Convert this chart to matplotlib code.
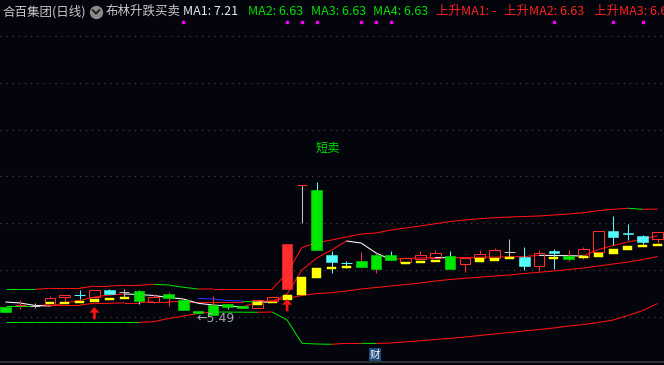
import numpy as np
import matplotlib
matplotlib.use('Agg')
import matplotlib.pyplot as plt
from matplotlib.patches import Rectangle, Polygon
from matplotlib.collections import LineCollection
from matplotlib.lines import Line2D
from matplotlib import transforms

plt.rcParams['font.family'] = ['Noto Sans CJK SC', 'DejaVu Sans']

# ---- data (prices) ----
opens  = [5.57, 5.59, 5.58, 5.59, 5.67, 5.69, 5.67, 5.74, 5.72, 5.73, 5.62, 5.70, 5.64, 5.525, 5.59,
          5.60, 5.58, 5.56, 5.63, 5.75, 6.79, 6.74, 6.09, 6.01, 6.03, 6.09, 6.09, 6.02, 6.05, 6.06,
          6.08, 6.00, 6.06, 6.06, 6.12, 6.07, 5.98, 6.13, 6.08, 6.07, 6.12, 6.33, 6.31, 6.28, 6.25]
highs  = [5.57, 5.64, 5.61, 5.68, 5.69, 5.74, 5.74, 5.75, 5.75, 5.74, 5.70, 5.72, 5.64, 5.525, 5.68,
          5.60, 5.58, 5.64, 5.67, 6.20, 6.79, 6.82, 6.13, 6.03, 6.12, 6.11, 6.13, 6.06, 6.13, 6.14,
          6.13, 6.06, 6.14, 6.16, 6.25, 6.17, 6.14, 6.15, 6.14, 6.17, 6.33, 6.48, 6.40, 6.29, 6.32]
lows   = [5.52, 5.55, 5.56, 5.58, 5.61, 5.65, 5.67, 5.70, 5.67, 5.60, 5.61, 5.58, 5.54, 5.51, 5.49,
          5.55, 5.56, 5.56, 5.63, 5.75, 6.41, 6.14, 5.91, 5.96, 5.97, 5.91, 6.04, 6.02, 6.05, 6.06,
          5.95, 5.92, 6.06, 6.06, 6.07, 5.94, 5.93, 5.95, 6.03, 6.05, 6.12, 6.19, 6.24, 6.19, 6.21]
closes = [5.52, 5.59, 5.58, 5.66, 5.69, 5.69, 5.74, 5.70, 5.72, 5.63, 5.67, 5.66, 5.54, 5.51, 5.49,
          5.57, 5.56, 5.64, 5.67, 6.20, 6.79, 6.14, 6.02, 6.01, 5.97, 5.95, 6.04, 6.06, 6.09, 6.11,
          5.95, 6.06, 6.10, 6.14, 6.12, 5.98, 6.11, 6.11, 6.05, 6.15, 6.33, 6.27, 6.30, 6.22, 6.32]
# body type: r hollow red, R filled red, c cyan, g green stick, x* cross, T limit-up T
kinds  = ['g', 'xr', 'xw', 'r', 'r', 'xc', 'r', 'c', 'xw', 'g', 'r', 'g', 'g', 'g', 'g',
          'g', 'g', 'r', 'r', 'R', 'T', 'g', 'c', 'xc', 'g', 'g', 'g', 'r', 'r', 'r',
          'g', 'r', 'r', 'r', 'xw', 'c', 'r', 'c', 'g', 'r', 'r', 'c', 'c', 'c', 'r']
wicks  = ['g', 'r', 'w', 'r', 'r', 'c', 'r', 'c', 'w', 'c', 'r', 'r', 'g', 'g', 'r',
          'c', 'g', 'r', 'r', 'r', 'w', 'c', 'c', 'c', 'r', 'r', 'c', 'r', 'r', 'r',
          'c', 'r', 'r', 'r', 'w', 'c', 'r', 'c', 'r', 'r', 'r', 'c', 'c', 'c', 'r']

nan = np.nan
yellow_top = [nan, nan, nan, 5.62, 5.62, 5.63, 5.65, 5.66, 5.67, nan, nan, nan, nan, nan, nan,
              nan, nan, 5.62, 5.62, 5.69, 5.87, 5.96, 5.97, 5.98, nan, nan, nan, 6.02, 6.03, 6.04,
              nan, nan, 6.06, 6.06, 6.07, nan, nan, 6.07, nan, 6.08, 6.11, 6.15, 6.18, 6.19, 6.20]
yellow_bot = [nan, nan, nan, 5.60, 5.605, 5.61, 5.62, 5.64, 5.65, nan, nan, nan, nan, nan, nan,
              nan, nan, 5.59, 5.61, 5.64, 5.69, 5.86, 5.95, 5.96, nan, nan, nan, 6.00, 6.01, 6.02,
              nan, nan, 6.02, 6.03, 6.05, nan, nan, 6.05, nan, 6.06, 6.07, 6.10, 6.14, 6.17, 6.18]

ma_line = [5.62, 5.61, 5.585, 5.58, 5.61, 5.635, 5.67, 5.69, 5.70, 5.695, 5.685, 5.665, 5.65, 5.607, 5.59,
           5.58, 5.57, 5.62, 5.618, 5.70, 5.94, 6.06, 6.14, 6.23, 6.21, 6.11, 6.045, 6.055, 6.06, 6.065,
           6.062, 6.065, 6.067, 6.07, 6.072, 6.074, 6.087, 6.085, 6.083, 6.08, 6.145, 6.185, 6.22, 6.25, 6.28]
ma_blue = [nan] * 13 + [5.657, 5.65, 5.635, 5.63] + [nan] * 28

boll_up  = [5.747, 5.747, 5.747, 5.757, 5.757, 5.757, 5.78, 5.78, 5.787, 5.787, 5.797, 5.79, 5.767, 5.75, 5.751,
            5.751, 5.751, 5.751, 5.751, 5.91, 6.165, 6.213, 6.24, 6.27, 6.30, 6.31, 6.34, 6.36, 6.38, 6.403,
            6.425, 6.44, 6.453, 6.463, 6.47, 6.475, 6.48, 6.49, 6.50, 6.513, 6.533, 6.547, 6.557, 6.547, 6.549]
boll_mid = [5.585, 5.585, 5.585, 5.59, 5.59, 5.59, 5.607, 5.607, 5.613, 5.613, 5.623, 5.623, 5.625, 5.625, 5.625,
            5.625, 5.625, 5.622, 5.635, 5.657, 5.685, 5.705, 5.713, 5.73, 5.75, 5.765, 5.78, 5.795, 5.81, 5.83,
            5.845, 5.857, 5.868, 5.88, 5.89, 5.905, 5.917, 5.93, 5.945, 5.96, 5.98, 6.00, 6.02, 6.045, 6.075]
boll_low = [5.417, 5.417, 5.417, 5.417, 5.417, 5.417, 5.417, 5.417, 5.417, 5.417, 5.423, 5.455, 5.48, 5.505, 5.52,
            5.519, 5.518, 5.517, 5.52, 5.44, 5.207, 5.20, 5.197, 5.207, 5.207, 5.205, 5.21, 5.222, 5.232, 5.245,
            5.257, 5.27, 5.285, 5.30, 5.315, 5.33, 5.345, 5.36, 5.38, 5.395, 5.415, 5.44, 5.485, 5.535, 5.605]

buy_idx = [6, 19]
sell_idx = [21]
fin_idx = [25]
flag_idx = [12, 19, 20, 21, 24, 25, 26, 37, 41, 43]
grid_prices = [5.47, 5.94, 6.41, 6.88, 7.34, 7.81, 8.28]

title_items = [('合百集团(日线)', 3, '#c8c8c8'),
               ('布林升跌买卖', 106, '#c8c8c8'),
               ('MA1: 7.21', 183, '#e4eaf2'),
               ('MA2: 6.63', 248, '#00e000'),
               ('MA3: 6.63', 311, '#00e000'),
               ('MA4: 6.63', 373, '#00e000'),
               ('上升MA1: -', 436, '#ff2020'),
               ('上升MA2: 6.63', 504, '#ff2020'),
               ('上升MA3: 6.63', 594, '#ff2020')]

# ---- style ----
W, H = 664, 365
BG = '#04050c'
RED = '#ff2d2d'
GREEN = '#00e600'
CYAN = '#54fcfc'
GRAY = '#c0c0c0'
YELLOW = '#ffff00'
LW = 0.75
body_col = {'r': RED, 'R': RED, 'c': CYAN, 'g': GREEN, 'xr': RED, 'xw': GRAY, 'xc': CYAN, 'T': RED}
wick_col = {'r': RED, 'c': CYAN, 'g': GREEN, 'w': GRAY}

n = len(opens)
x = np.arange(n)

fig = plt.figure(figsize=(W / 100, H / 100), dpi=100, facecolor=BG)
ax = fig.add_axes([0, 0, 1, 1])
ax.set_facecolor(BG)
ax.set_xlim(-5.5 / 14.82, (W - 5.5) / 14.82)
ax.set_ylim(8.64 - H / 100, 8.64)
ax.axis('off')

for g in grid_prices:
    ax.axhline(g, color='#4a4a4a', lw=0.8, ls=(0, (1, 4.5)), zorder=0)
ax.plot([0, 1], [0.007, 0.007], transform=ax.transAxes, color='#3a3a3a', lw=1.2, zorder=1)


def draw_colored(vals, up, down, lw=LW, z=2):
    v = np.asarray(vals, dtype=float)
    segs, cols = [], []
    prev = down
    for i in range(len(v) - 1):
        if np.isnan(v[i]) or np.isnan(v[i + 1]):
            continue
        if v[i + 1] > v[i]:
            prev = up
        elif v[i + 1] < v[i]:
            prev = down
        segs.append([(i, v[i]), (i + 1, v[i + 1])])
        cols.append(prev)
    ax.add_collection(LineCollection(segs, colors=cols, linewidths=lw, zorder=z))


# bollinger bands and MA lines
draw_colored(boll_up, '#ff1010', '#00dd00')
draw_colored(boll_mid, '#ff1010', '#00dd00')
draw_colored(boll_low, '#ff1010', '#00dd00')
ax.plot(x, ma_blue, color='#2a2aff', lw=LW, zorder=2)
draw_colored(ma_line, '#ff1010', '#ffffff', z=3)

# candles
bw = 0.72
for i in range(n):
    o, h, l, c = opens[i], highs[i], lows[i], closes[i]
    k = kinds[i]
    col = body_col[k]
    wc = wick_col[wicks[i]]
    top, bot = max(o, c), min(o, c)
    if k == 'r':
        ax.vlines(i, top, h, color=wc, lw=LW, zorder=4)
        ax.vlines(i, l, bot, color=wc, lw=LW, zorder=4)
        ax.add_patch(Rectangle((i - bw / 2, bot), bw, top - bot, fill=False,
                               ec=col, lw=LW, zorder=4))
    elif k.startswith('x') or k == 'T':
        ax.vlines(i, l, h, color=wc, lw=LW, zorder=4)
        ax.hlines(o, i - bw / 2, i + bw / 2, color=col, lw=LW, zorder=4)
    else:
        ax.vlines(i, l, h, color=wc, lw=LW, zorder=4)
        ax.add_patch(Rectangle((i - bw / 2, bot), bw, top - bot, fc=col,
                               ec=col, lw=0.4, zorder=5))

# yellow sticks
yw = 0.6
for i in range(n):
    if np.isnan(yellow_top[i]):
        continue
    ax.add_patch(Rectangle((i - yw / 2, yellow_bot[i]), yw, yellow_top[i] - yellow_bot[i],
                           fc=YELLOW, ec=YELLOW, lw=0.3, zorder=6))

# buy arrows
for i in buy_idx:
    tip = lows[i] - 0.10
    pts = [(i, tip), (i + 0.34, tip - 0.057), (i + 0.09, tip - 0.057), (i + 0.09, tip - 0.123),
           (i - 0.09, tip - 0.123), (i - 0.09, tip - 0.057), (i - 0.34, tip - 0.057)]
    ax.add_patch(Polygon(pts, closed=True, fc='#ff1010', ec='none', zorder=7))

# sell text
for i in sell_idx:
    ax.annotate('短卖', xy=(i, highs[i]), xytext=(-1, 24), textcoords='offset points',
                ha='left', va='center', color='#00e000', fontsize=8.8, zorder=8)

# lowest price label
imin = int(np.argmin(lows))
ax.annotate('\u2190' + f'{lows[imin]:.2f}', xy=(imin, lows[imin]), xytext=(-12, -2.3),
            textcoords='offset points', ha='left', va='center', color='#a4a8b0',
            fontsize=9, family=['DejaVu Sans'], zorder=8)

# flags along top and financial marker at bottom
blend = transforms.blended_transform_factory(ax.transData, ax.transAxes)
ax.plot(flag_idx, [1 - 22.3 / H] * len(flag_idx), transform=blend, ls='none', marker='s',
        ms=1.7, mfc='#ff00ff', mec='#ff00ff', zorder=8)
for i in fin_idx:
    ax.text(i - 0.07, 1 - 354.6 / H, '财', transform=blend, ha='center', va='center',
            color='white', fontsize=7.5, zorder=8,
            bbox=dict(boxstyle='square,pad=0.12', fc='#1d4a7c', ec='none'))

# title bar
ty = 1 - 11.5 / H
for txt, px, col in title_items:
    fig.text(px / W, ty, txt, color=col, fontsize=9, ha='left', va='center')
fig.add_artist(Line2D([96 / W], [1 - 12 / H], marker='o', ms=8.6, mfc='#8a8a8a', mec='#8a8a8a',
                      transform=fig.transFigure))
fig.add_artist(Line2D([92.8 / W, 96 / W, 99.2 / W], [1 - 10.2 / H, 1 - 13.6 / H, 1 - 10.2 / H],
                      color='#1a1a1a', lw=1.3, transform=fig.transFigure))

fig.savefig('out.png', dpi=100, facecolor=BG)
